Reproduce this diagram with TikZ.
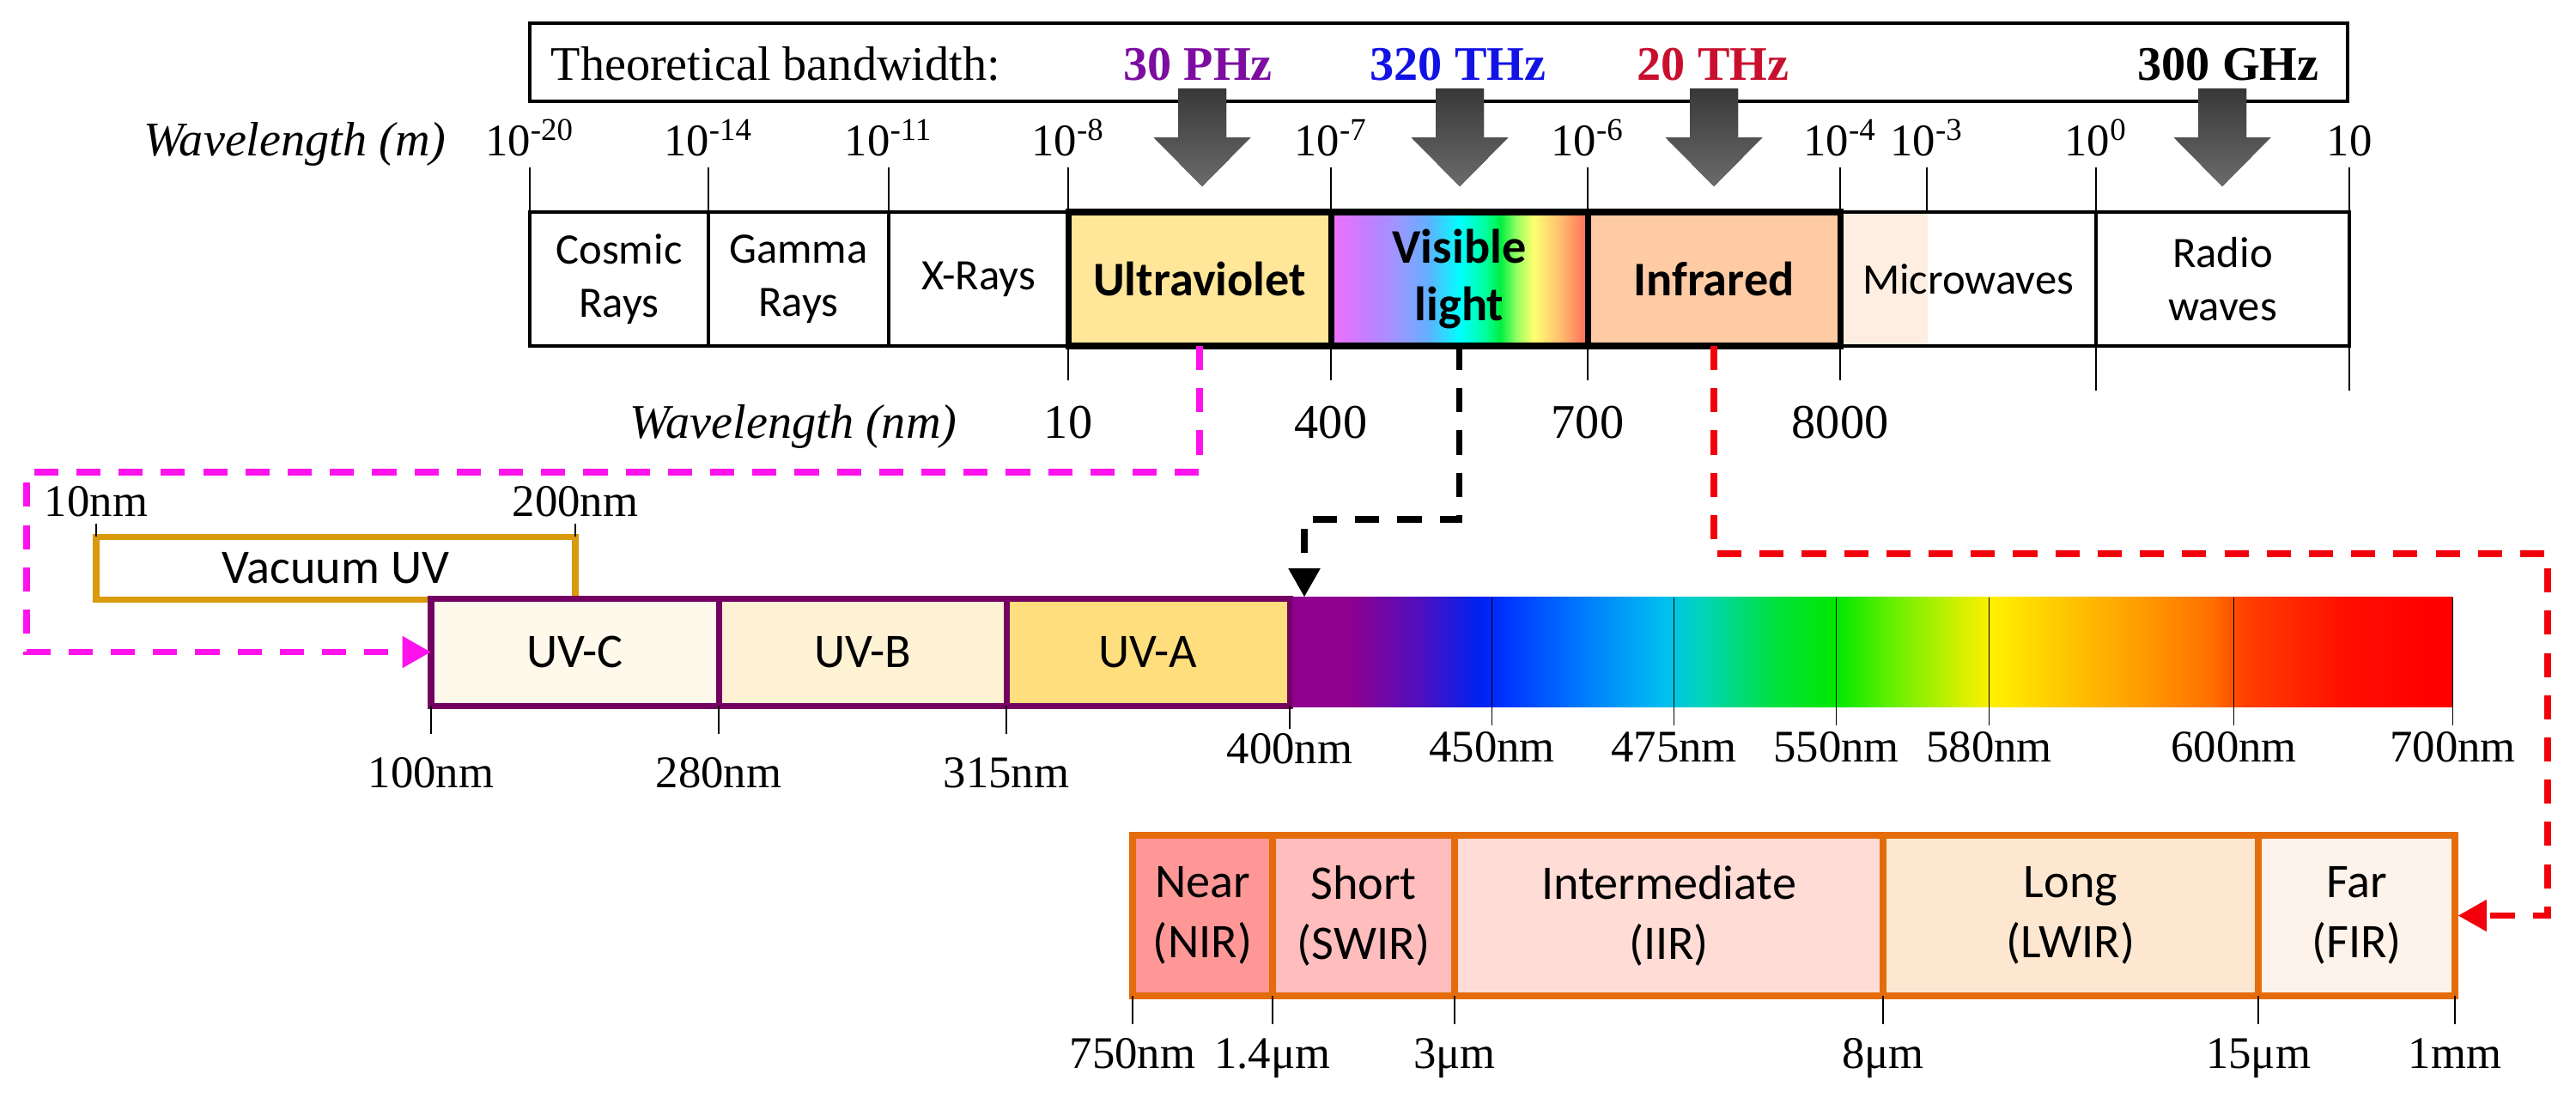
\documentclass[tikz,border=0pt]{standalone}
\usepackage{fontspec}
\setmainfont{Liberation Serif}
\newfontfamily\bandfont{Carlito}
\usetikzlibrary{positioning,calc,arrows.meta,backgrounds}

\definecolor{uvFill}{HTML}{FFE699}
\definecolor{irFill}{HTML}{FFCBA4}
\definecolor{mwFill}{HTML}{FDEEE1}
\definecolor{uvcFill}{HTML}{FEF9EB}
\definecolor{uvbFill}{HTML}{FEF2D5}
\definecolor{uvaFill}{HTML}{FFDE7D}
\definecolor{nearFill}{HTML}{FF9797}
\definecolor{shortFill}{HTML}{FFBDBD}
\definecolor{interFill}{HTML}{FFDCD6}
\definecolor{longFill}{HTML}{FDE7D1}
\definecolor{farFill}{HTML}{FEF3EA}
\definecolor{uvBorder}{HTML}{740062}
\definecolor{vuvBorder}{HTML}{D99A0C}
\definecolor{irBorder}{HTML}{E46C0A}
\definecolor{phzColor}{HTML}{7D0DA0}
\definecolor{thzColor}{HTML}{1212E6}
\definecolor{irTwentyColor}{HTML}{C8102E}
\definecolor{linkMagenta}{HTML}{FF12EC}
\definecolor{linkRed}{HTML}{F2000C}

\pgfdeclarehorizontalshading{visibleband}{100bp}{%
  rgb(0bp)=(0.94,0.44,1);rgb(25bp)=(0.94,0.44,1);rgb(32.5bp)=(0.75,0.5,1);%
  rgb(38.5bp)=(0.6,0.6,1);rgb(44bp)=(0.38,0.69,1);rgb(50bp)=(0,1,1);%
  rgb(55bp)=(0,1,0.63);rgb(58bp)=(0,0.94,0.25);rgb(61bp)=(0.56,1,0.38);%
  rgb(64.5bp)=(1,1,0.44);rgb(69.5bp)=(1,0.75,0.44);rgb(75bp)=(1,0.42,0.35);%
  rgb(100bp)=(1,0.42,0.35)}
\pgfdeclarehorizontalshading{spectrumband}{100bp}{%
  rgb(0bp)=(0.56,0,0.56);rgb(25bp)=(0.56,0,0.56);rgb(27.5bp)=(0.56,0,0.56);%
  rgb(30.5bp)=(0.31,0.06,0.75);rgb(33bp)=(0,0.13,0.94);rgb(34bp)=(0,0.19,1);%
  rgb(37bp)=(0,0.44,1);rgb(41bp)=(0,0.75,0.94);rgb(42.5bp)=(0,0.83,0.75);%
  rgb(45.7bp)=(0,0.88,0.25);rgb(48.4bp)=(0,0.91,0);rgb(50.7bp)=(0.38,0.94,0);%
  rgb(53.7bp)=(0.82,0.94,0);rgb(55.2bp)=(1,0.94,0);rgb(57.4bp)=(1,0.82,0);%
  rgb(61.2bp)=(1,0.63,0);rgb(64.6bp)=(1,0.44,0);rgb(66bp)=(1,0.25,0);%
  rgb(70.3bp)=(1,0.06,0);rgb(74bp)=(1,0,0);rgb(100bp)=(1,0,0)}

\tikzset{
    cell/.style={
        draw,
        line width=0.9pt,
        outer sep=0pt,
        inner sep=0pt,
        minimum height=1.56cm,
        align=center,
        font=\bandfont\fontsize{14.4}{17.6}\selectfont
    },
    keycell/.style={
        cell,
        line width=2pt,
        font=\bandfont\bfseries\fontsize{16}{19}\selectfont
    },
    uvcell/.style={
        draw=uvBorder,
        line width=2pt,
        outer sep=0pt,
        inner sep=0pt,
        minimum width=3.35cm,
        minimum height=1.25cm,
        font=\bandfont\fontsize{16}{20}\selectfont
    },
    ircell/.style={
        draw=irBorder,
        line width=2.2pt,
        outer sep=0pt,
        inner sep=0pt,
        minimum height=1.87cm,
        align=center,
        font=\bandfont\fontsize{16}{20}\selectfont
    },
    scaletick/.style={line width=0.5pt},
    explabel/.style={inner sep=0pt, font=\fontsize{15}{18}\selectfont},
    nmscale/.style={inner sep=0pt, font=\fontsize{16}{19}\selectfont},
    nmlabel/.style={inner sep=0pt, font=\fontsize{15}{18}\selectfont},
    axislabel/.style={inner sep=0pt, font=\itshape\fontsize{16}{19}\selectfont},
    freq/.style={inner sep=0pt, anchor=base, font=\bfseries\fontsize{16}{19}\selectfont},
    bwarrow/.style={top color=black!78, bottom color=black!58},
    zoomlink/.style={
        line width=2.2pt,
        dash pattern=on 8pt off 6pt,
        -{Triangle[length=9.5pt,width=10pt]}
    }
}

\begin{document}
\begin{tikzpicture}
    \useasboundingbox (0,0) rectangle (30,-12.78);

    % bandwidth box
    \node[draw, line width=1pt, outer sep=0pt, minimum width=21.17cm, minimum height=0.91cm, anchor=north west] (bwbox) at (6.17,-0.27) {};
    \node[inner sep=0pt, anchor=base west, font=\fontsize{16}{19}\selectfont] (bwtext) at (6.41,-0.93) {Theoretical bandwidth:};
    \node[freq, text=phzColor] (f30) at (13.95,-0.93) {30 PHz};
    \node[freq, text=thzColor] (f320) at (16.98,-0.93) {320 THz};
    \node[freq, text=irTwentyColor] (f20) at (19.95,-0.93) {20 THz};
    \node[freq] (f300) at (25.95,-0.93) {300 GHz};
    \foreach \ax in {14.00,17.00,19.96,25.88}
        \fill[bwarrow] (\ax-0.28,-1.03) -- (\ax+0.28,-1.03) -- (\ax+0.28,-1.60) -- (\ax+0.565,-1.60)
            -- (\ax,-2.17) -- (\ax-0.565,-1.60) -- (\ax-0.28,-1.60) -- cycle;

    % electromagnetic spectrum
    \node[cell, minimum width=2.08cm, anchor=north west] (cosmic) at (6.17,-2.47) {Cosmic\\Rays};
    \node[cell, minimum width=2.10cm, right=0pt of cosmic] (gamma) {Gamma\\Rays};
    \node[cell, minimum width=2.09cm, right=0pt of gamma] (xrays) {X-Rays};
    \node[keycell, fill=uvFill, minimum width=3.06cm, right=0pt of xrays] (ultraviolet) {Ultraviolet};
    \node[keycell, shading=visibleband, minimum width=2.99cm, right=0pt of ultraviolet] (visible) {Visible\\light};
    \node[keycell, fill=irFill, minimum width=2.94cm, right=0pt of visible] (infrared) {Infrared};
    \node[cell, minimum width=2.98cm, right=0pt of infrared] (microwave) {Microwaves};
    \node[cell, minimum width=2.95cm, right=0pt of microwave] (radio) {Radio\\waves};
    \begin{scope}[on background layer]
        \fill[mwFill] (microwave.north west) rectangle ($(microwave.south west)+(1.02,0)$);
    \end{scope}

    \coordinate (mwtick) at ($(microwave.north west)+(1.01,0)$);
    \foreach \pos/\ex in {cosmic.north west/-20, gamma.north west/-14, xrays.north west/-11,
        ultraviolet.north west/-8, visible.north west/-7, infrared.north west/-6,
        microwave.north west/-4, mwtick/-3, radio.north west/0}
        \draw[scaletick] (\pos) -- ++(0,0.52) node[explabel, above=0.12cm] (exp\ex) {10\textsuperscript{\ex}};
    \draw[scaletick] (radio.north east) -- ++(0,0.52) node[explabel, above=0.12cm] (expten) {10};
    \node[axislabel, base left=0.44cm of exp-20] (wlm) {Wavelength (m)};

    \foreach \pos/\lab/\nm in {ultraviolet.south west/10/nm10, visible.south west/400/nm400,
        infrared.south west/700/nm700, infrared.south east/8000/nm8000}
        \draw[scaletick] (\pos) -- ++(0,-0.40) node[nmscale, below=0.29cm] (\nm) {\lab};
    \foreach \pos in {radio.south west, radio.south east}
        \draw[scaletick] (\pos) -- ++(0,-0.52);
    \node[axislabel, base left=1.0cm of nm10] (wlnm) {Wavelength (nm)};

    % ultraviolet detail
    \node[draw=vuvBorder, line width=2pt, outer sep=0pt, minimum width=5.58cm, minimum height=0.73cm,
        anchor=north west, font=\bandfont\fontsize{16}{20}\selectfont] (vuv) at (1.12,-6.25) {Vacuum UV};
    \draw[scaletick] (vuv.north west) -- ++(0,0.15) node[nmlabel, above=0.07cm] {10nm};
    \draw[scaletick] (vuv.north east) -- ++(0,0.15) node[nmlabel, above=0.07cm] {200nm};

    \node[uvcell, fill=uvcFill, anchor=north west] (uvc) at (5.02,-6.97) {UV-C};
    \node[uvcell, fill=uvbFill, right=0pt of uvc] (uvb) {UV-B};
    \node[uvcell, fill=uvaFill, minimum width=3.30cm, right=0pt of uvb] (uva) {UV-A};
    \foreach \pos/\lab in {uvc.south west/100nm, uvb.south west/280nm, uva.south west/315nm}
        \draw[scaletick] (\pos) -- ++(0,-0.33) node[nmlabel, below=0.27cm] {\lab};

    % visible detail
    \node[shading=spectrumband, outer sep=0pt, inner sep=0pt, minimum width=13.51cm, minimum height=1.28cm, right=1pt of uva] (spectrum) {};
    \draw[scaletick] (uva.south east) -- ++(0,-0.27) node[nmlabel, below=0.05cm] {400nm};
    \foreach \dx/\lab in {2.32/450nm, 4.44/475nm, 6.33/550nm, 8.11/580nm, 10.96/600nm, 13.51/700nm}
        \draw[scaletick] ($(spectrum.north west)+(\dx,0)$) -- ++(0,-1.49) node[nmlabel, below=0.07cm] {\lab};

    % infrared detail
    \node[ircell, fill=nearFill, minimum width=1.63cm, anchor=north west] (near) at (13.19,-9.73) {Near\\(NIR)};
    \node[ircell, fill=shortFill, minimum width=2.12cm, right=0pt of near] (short) {Short\\(SWIR)};
    \node[ircell, fill=interFill, minimum width=4.99cm, right=0pt of short] (inter) {Intermediate\\(IIR)};
    \node[ircell, fill=longFill, minimum width=4.37cm, right=0pt of inter] (long) {Long\\(LWIR)};
    \node[ircell, fill=farFill, minimum width=2.29cm, right=0pt of long] (far) {Far\\(FIR)};
    \foreach \pos/\lab in {near.south west/750nm, short.south west/1.4μm, inter.south west/3μm,
        long.south west/8μm, far.south west/15μm, far.south east/1mm}
        \draw[scaletick] (\pos) -- ++(0,-0.33) node[nmlabel, below=0.16cm] {\lab};

    % zoom connectors
    \coordinate (mgA) at (0.31,-5.50);
    \coordinate (bkA) at (15.19,-6.05);
    \coordinate (rdA) at (29.67,-6.45);
    \draw[zoomlink, linkMagenta] (ultraviolet.south) |- (mgA) |- (uvc.west);
    \draw[zoomlink, black] (visible.south) |- (bkA) -- (bkA |- spectrum.north);
    \draw[zoomlink, linkRed, shorten >=1pt] (infrared.south) |- (rdA) |- (far.east);
\end{tikzpicture}
\end{document}
